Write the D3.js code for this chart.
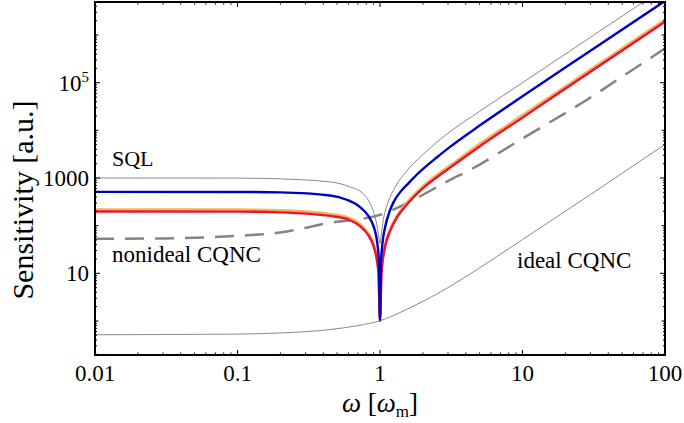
<!DOCTYPE html>
<html>
<head>
<meta charset="utf-8">
<script src="https://cdn.jsdelivr.net/npm/d3@7"></script>
<style>
  body { margin: 0; background: #fff; }
  text { font-family: "Liberation Serif", "Times New Roman", serif; fill: #000; }
</style>
</head>
<body>
<div id="chart"></div>
<script>
// tick values / labels
var xTickValues = [0.01, 0.1, 1, 10, 100];
var xTickLabels = ["0.01", "0.1", "1", "10", "100"];
var yTickValues = [10, 1000, 1e5];
var yTickLabels = [["10", ""], ["1000", ""], ["10", "5"]];

// curves, [omega, sensitivity]
var sqlData = [[0.01,1000],[0.1,995],[0.2,957],[0.446,830],[0.616,650],[0.76,470],[0.851,295],[0.922,153],
  [0.96,88],[0.984,55],[1.0,42],[1.016,58],[1.055,135],[1.1,225],[1.2,450],[1.3,710],[1.5,1280],[2,3100],
  [3,8700],[5,25000],[10,1.0e5],[30,9.0e5],[100,1.0e7]];
var idealData = [[0.01,0.514],[0.1,0.53],[0.2,0.56],[0.446,0.66],[0.7,0.8],[1,1.01],[1.38,1.5],[2.01,2.6],
  [3.1,5.3],[5,13],[10,51],[30,450],[100,5060]];
var nonidealData = [[0.01,52.9],[0.03,54],[0.1,61],[0.2,72],[0.446,115],[1.0,168],[1.71,348],[3.1,912],
  [4.28,1480],[10,6760],[28.2,43400],[60,192000],[100,524000]];
var orangeData = [[0.01,218],[0.1,217],[0.2,209],[0.446,176],[0.584,152],[0.724,108],[0.828,69],[0.905,40],
  [0.948,22],[0.976,10.5],[1.0,1.02],[1.024,10.8],[1.072,33],[1.114,54],[1.175,84],[1.31,160],[1.54,303],
  [2.013,680],[2.78,1450],[3.1,1820],[5,5200],[10,20800],[30,188000],[100,2.1e6]];
var redData = [[0.01,198],[0.1,197],[0.2,190],[0.446,160],[0.584,138],[0.724,98],[0.828,63],[0.905,36],
  [0.948,20],[0.976,9.5],[1.0,1.02],[1.024,9.8],[1.072,30],[1.114,49],[1.175,76],[1.31,145],[1.54,275],
  [2.013,620],[2.78,1300],[3.1,1650],[5,4600],[10,18500],[30,170000],[100,1.9e6]];
var blueData = [[0.01,512],[0.1,510],[0.2,500],[0.446,430],[0.584,350],[0.724,245],[0.828,160],[0.895,102],
  [0.922,78],[0.96,40],[0.984,16],[1.0,1.02],[1.016,16.5],[1.041,43],[1.084,90],[1.175,210],[1.25,320],
  [1.382,500],[1.6,800],[1.809,1170],[2.5,2700],[3.1,4500],[5,12600],[10,52000],[30,470000],[100,5.2e6]];

var plotL = 95, plotR = 665, plotT = 2, plotB = 355;

var svg = d3.select("#chart").append("svg")
  .attr("width", 684)
  .attr("height", 423);

var x = d3.scaleLog().domain([0.01, 100]).range([plotL, plotR]);
var y = d3.scaleLog().domain([0.193, 4.94e6]).range([plotB, plotT]);

svg.append("defs").append("clipPath").attr("id", "plotClip")
  .append("rect")
  .attr("x", plotL).attr("y", plotT)
  .attr("width", plotR - plotL).attr("height", plotB - plotT);

var line = d3.line()
  .x(function(d){ return x(d[0]); })
  .y(function(d){ return y(d[1]); })
  .curve(d3.curveMonotoneX);

var curves = svg.append("g").attr("clip-path", "url(#plotClip)");

function drawCurve(data, color, width, dash){
  curves.append("path")
    .datum(data)
    .attr("d", line)
    .attr("fill", "none")
    .attr("stroke", color)
    .attr("stroke-width", width)
    .attr("stroke-dasharray", dash || null)
    .attr("stroke-linejoin", "round");
}

drawCurve(sqlData, "#8a8a8a", 1);
drawCurve(idealData, "#8a8a8a", 1);
drawCurve(nonidealData, "#848484", 2.5, "19,11");
drawCurve(orangeData, "#f7b25a", 2.6);
drawCurve(redData, "#f01030", 2.4);
drawCurve(blueData, "#0000c4", 2.4);

// minor tick positions
var xMinor = [], yMinor = [], yDecades = [];
for (var e = -2; e < 2; e++) {
  for (var m = 2; m < 10; m++) xMinor.push(m * Math.pow(10, e));
}
for (var e2 = -1; e2 <= 6; e2++) {
  if (yTickValues.indexOf(Math.pow(10, e2)) < 0 && e2 >= 0) yDecades.push(Math.pow(10, e2));
  for (var m2 = 2; m2 < 10; m2++) {
    var v = m2 * Math.pow(10, e2);
    if (v > y.domain()[0] && v < y.domain()[1]) yMinor.push(v);
  }
}

var ticks = svg.append("g").attr("stroke", "#000").attr("stroke-width", 1);

function xTick(vals, len){
  vals.forEach(function(v){
    ticks.append("line").attr("x1", x(v)).attr("x2", x(v)).attr("y1", plotB).attr("y2", plotB - len);
    ticks.append("line").attr("x1", x(v)).attr("x2", x(v)).attr("y1", plotT).attr("y2", plotT + len);
  });
}
function yTick(vals, len){
  vals.forEach(function(v){
    ticks.append("line").attr("y1", y(v)).attr("y2", y(v)).attr("x1", plotL).attr("x2", plotL + len);
    ticks.append("line").attr("y1", y(v)).attr("y2", y(v)).attr("x1", plotR).attr("x2", plotR - len);
  });
}
xTick(xTickValues, 5);
xTick(xMinor, 2.5);
yTick(yTickValues, 5);
yTick(yDecades, 3.5);
yTick(yMinor, 2);

// frame
svg.append("rect")
  .attr("x", plotL).attr("y", plotT)
  .attr("width", plotR - plotL).attr("height", plotB - plotT)
  .attr("fill", "none")
  .attr("stroke", "#000")
  .attr("stroke-width", 2);

// x tick labels
svg.append("g").selectAll("text")
  .data(xTickValues)
  .enter()
  .append("text")
  .attr("x", function(d){ return x(d); })
  .attr("y", 381)
  .attr("text-anchor", "middle")
  .style("font-size", "23px")
  .text(function(d, i){ return xTickLabels[i]; });

// y tick labels
var yLab = svg.append("g").selectAll("text")
  .data(yTickValues)
  .enter()
  .append("text")
  .attr("x", 89)
  .attr("y", function(d){ return y(d) + 8; })
  .attr("text-anchor", "end")
  .style("font-size", "23px");
yLab.append("tspan").text(function(d, i){ return yTickLabels[i][0]; });
yLab.append("tspan")
  .attr("dy", -9)
  .style("font-size", "15px")
  .text(function(d, i){ return yTickLabels[i][1]; });

// axis titles
svg.append("text")
  .attr("transform", "translate(33,200) rotate(-90)")
  .attr("text-anchor", "middle")
  .style("font-size", "30px")
  .text("Sensitivity [a.u.]");

var xt = svg.append("text")
  .attr("x", 380)
  .attr("y", 412)
  .attr("text-anchor", "middle")
  .style("font-size", "27px");
xt.append("tspan").style("font-style", "italic").text("ω");
xt.append("tspan").text(" [");
xt.append("tspan").style("font-style", "italic").text("ω");
xt.append("tspan").attr("dy", 5).style("font-size", "17px").text("m");
xt.append("tspan").attr("dy", -5).text("]");

// curve labels
svg.append("text").attr("x", 112).attr("y", 166).style("font-size", "22px").text("SQL");
svg.append("text").attr("x", 112).attr("y", 262).style("font-size", "23px").text("nonideal CQNC");
svg.append("text").attr("x", 517).attr("y", 268).style("font-size", "23px").text("ideal CQNC");
</script>
</body>
</html>
